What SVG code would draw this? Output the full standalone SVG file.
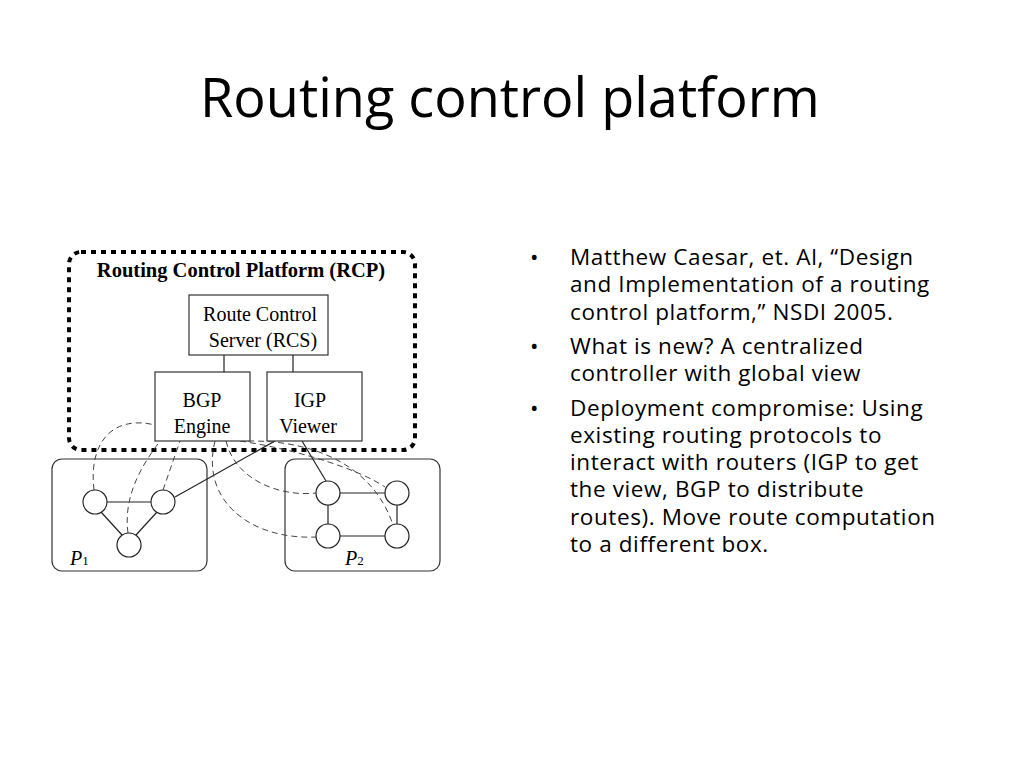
<svg xmlns="http://www.w3.org/2000/svg" width="1024" height="768" viewBox="0 0 1024 768">
<style>
.t{font-family:"Open Sans","Liberation Sans",sans-serif;fill:#000}
.s{font-family:"Liberation Serif",serif;fill:#000}
.box{fill:#fff;stroke:#333;stroke-width:1.2}
.c{fill:#fff;stroke:#222;stroke-width:1.2}
.l{stroke:#222;stroke-width:1.2;fill:none}
.d{stroke:#444;stroke-width:1;fill:none;stroke-dasharray:6 4}
</style>
<rect width="1024" height="768" fill="#fff"/>
<text class="t" x="200" y="117" font-size="54">Routing control platform</text>
<g id="rcp"><rect x="69" y="252" width="346" height="198" rx="12" fill="none" stroke="#000" stroke-width="4" stroke-dasharray="5 5"/>
<text class="s" x="241" y="277" font-size="20.5" font-weight="bold" text-anchor="middle">Routing Control Platform (RCP)</text></g>
<g id="p1"><rect class="box" x="52" y="459" width="155" height="112" rx="10"/><text class="s" x="70" y="565" font-size="20" font-style="italic">P<tspan font-style="normal" font-size="13">1</tspan></text></g>
<g id="p2"><rect class="box" x="285" y="459" width="155" height="112" rx="10"/><text class="s" x="345" y="565" font-size="20" font-style="italic">P<tspan font-style="normal" font-size="13">2</tspan></text></g>
<g id="connectors">
<line class="l" x1="224" y1="355" x2="224" y2="372"/>
<line class="l" x1="293" y1="355" x2="293" y2="372"/>
<line class="l" x1="107" y1="502" x2="151" y2="502"/>
<line class="l" x1="101" y1="512" x2="122" y2="535"/>
<line class="l" x1="157" y1="512" x2="136" y2="535"/>
<line class="l" x1="340" y1="493" x2="385" y2="493"/>
<line class="l" x1="340" y1="536" x2="385" y2="536"/>
<line class="l" x1="328" y1="505" x2="328" y2="524"/>
<line class="l" x1="397" y1="505" x2="397" y2="524"/>
<line class="l" x1="275" y1="441" x2="175" y2="497"/>
<line class="l" x1="302" y1="441" x2="326" y2="481"/>
<path class="d" d="M94,490 C88,440 115,415 155,425"/>
<path class="d" d="M128,533 C122,490 150,455 160,441"/>
<path class="d" d="M163,490 L180,441"/>
<path class="d" d="M215,441 C200,500 250,540 316,537"/>
<path class="d" d="M226,441 C235,480 280,497 316,493"/>
<path class="d" d="M240,441 C300,450 360,470 385,487"/>
<path class="d" d="M248,441 C320,440 375,470 393,525"/>
</g>
<g id="rcs"><rect class="box" x="189" y="295" width="139" height="60"/><text class="s" x="260" y="321" font-size="20" text-anchor="middle">Route  Control</text><text class="s" x="263" y="347" font-size="20" text-anchor="middle">Server (RCS)</text></g>
<g id="bgp"><rect class="box" x="155" y="372" width="95" height="69"/><text class="s" x="202" y="407" font-size="20" text-anchor="middle">BGP</text><text class="s" x="202" y="433" font-size="20" text-anchor="middle">Engine</text></g>
<g id="igp"><rect class="box" x="267" y="372" width="95" height="69"/><text class="s" x="310" y="407" font-size="20" text-anchor="middle">IGP</text><text class="s" x="308" y="433" font-size="20" text-anchor="middle">Viewer</text></g>
<g id="routers">
<circle class="c" cx="95" cy="502" r="12"/><circle class="c" cx="163" cy="502" r="12"/><circle class="c" cx="129" cy="545" r="12"/>
<circle class="c" cx="328" cy="493" r="12"/><circle class="c" cx="397" cy="493" r="12"/><circle class="c" cx="328" cy="536" r="12"/><circle class="c" cx="397" cy="536" r="12"/>
</g>
<g id="bullets" class="t" font-size="22.5" letter-spacing="0.6">
<text x="530" y="265">•</text><text x="530" y="354">•</text><text x="530" y="416">•</text>
<text x="570" y="265">Matthew Caesar, et. Al, “Design</text>
<text x="570" y="292">and Implementation of a routing</text>
<text x="570" y="320">control platform,” NSDI 2005.</text>
<text x="570" y="354">What is new? A centralized</text>
<text x="570" y="381">controller with global view</text>
<text x="570" y="416">Deployment compromise: Using</text>
<text x="570" y="443">existing routing protocols to</text>
<text x="570" y="470">interact with routers (IGP to get</text>
<text x="570" y="497">the view, BGP to distribute</text>
<text x="570" y="525">routes). Move route computation</text>
<text x="570" y="552">to a different box.</text>
</g>
</svg>
